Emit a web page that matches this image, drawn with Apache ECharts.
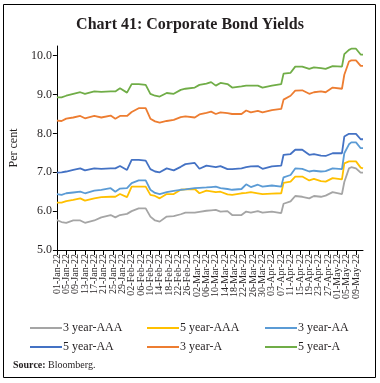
<!DOCTYPE html>
<html><head><meta charset="utf-8">
<script src="https://cdn.jsdelivr.net/npm/echarts@6/dist/echarts.min.js"></script>
<style>html,body{margin:0;padding:0;background:#fff}#c{width:380px;height:383px}</style>
</head><body><div id="c"></div>
<script>
var sampleDates = ['01-Jan-22','03-Jan-22','05-Jan-22','08-Jan-22','11-Jan-22','13-Jan-22','17-Jan-22','20-Jan-22','24-Jan-22','26-Jan-22','28-Jan-22','31-Jan-22','02-Feb-22','05-Feb-22','08-Feb-22','10-Feb-22','12-Feb-22','14-Feb-22','17-Feb-22','20-Feb-22','23-Feb-22','25-Feb-22','01-Mar-22','03-Mar-22','06-Mar-22','08-Mar-22','10-Mar-22','12-Mar-22','15-Mar-22','17-Mar-22','21-Mar-22','23-Mar-22','25-Mar-22','28-Mar-22','30-Mar-22','03-Apr-22','07-Apr-22','08-Apr-22','11-Apr-22','13-Apr-22','16-Apr-22','19-Apr-22','21-Apr-22','24-Apr-22','26-Apr-22','29-Apr-22','03-May-22','04-May-22','06-May-22','07-May-22','09-May-22','11-May-22','12-May-22'];
var aaa3 = [5.77,5.72,5.70,5.76,5.76,5.70,5.76,5.84,5.90,5.84,5.90,5.93,6.00,6.07,6.07,5.86,5.76,5.73,5.86,5.87,5.92,5.96,5.96,5.98,6.01,6.02,6.03,5.99,6.00,5.90,5.90,5.99,5.96,6.00,5.96,5.99,5.95,6.19,6.25,6.39,6.37,6.33,6.39,6.37,6.40,6.49,6.44,6.75,7.10,7.13,7.10,6.99,6.99];
var aaa5 = [6.22,6.22,6.26,6.29,6.33,6.27,6.33,6.36,6.37,6.37,6.44,6.36,6.63,6.63,6.63,6.42,6.39,6.33,6.44,6.44,6.55,6.56,6.57,6.46,6.53,6.51,6.49,6.50,6.43,6.42,6.46,6.47,6.49,6.46,6.44,6.45,6.46,6.73,6.76,6.89,6.89,6.79,6.83,6.77,6.76,6.85,6.82,7.23,7.28,7.28,7.28,7.12,7.10];
var aa3 = [6.44,6.42,6.46,6.48,6.50,6.46,6.53,6.55,6.59,6.50,6.58,6.59,6.72,6.79,6.79,6.55,6.47,6.44,6.49,6.52,6.55,6.56,6.59,6.60,6.61,6.62,6.63,6.59,6.57,6.55,6.57,6.69,6.62,6.68,6.63,6.66,6.63,6.87,6.93,7.10,7.09,7.02,7.04,7.02,7.03,7.10,7.08,7.49,7.72,7.77,7.77,7.62,7.62];
var aa5 = [6.99,7.00,7.02,7.06,7.10,7.05,7.10,7.09,7.10,7.10,7.16,7.06,7.32,7.32,7.30,7.08,7.02,7.00,7.10,7.05,7.14,7.21,7.24,7.09,7.17,7.15,7.13,7.16,7.08,7.08,7.10,7.13,7.15,7.16,7.09,7.15,7.17,7.45,7.47,7.58,7.58,7.45,7.47,7.43,7.42,7.49,7.49,7.92,7.99,7.99,7.99,7.85,7.85];
var a3 = [8.33,8.32,8.38,8.41,8.45,8.39,8.45,8.41,8.46,8.38,8.45,8.45,8.55,8.65,8.65,8.38,8.31,8.28,8.32,8.35,8.42,8.44,8.41,8.49,8.53,8.56,8.50,8.54,8.52,8.50,8.50,8.59,8.54,8.58,8.54,8.60,8.63,8.87,8.97,9.10,9.11,9.02,9.06,9.08,9.06,9.18,9.15,9.51,9.85,9.88,9.88,9.74,9.74];
var a5 = [8.93,8.93,8.97,9.02,9.06,9.02,9.08,9.07,9.08,9.08,9.16,9.05,9.27,9.27,9.25,9.02,8.97,8.95,9.04,9.02,9.12,9.15,9.18,9.25,9.28,9.32,9.23,9.30,9.27,9.18,9.21,9.23,9.23,9.23,9.18,9.23,9.27,9.54,9.56,9.72,9.72,9.66,9.70,9.68,9.66,9.73,9.72,10.04,10.15,10.18,10.18,10.03,10.03];
var seriesNames = ['3 year-AAA','5 year-AAA','3 year-AA','5 year-AA','3 year-A','5 year-A'];
var seriesColors = ['#A5A5A5','#FFC000','#5B9BD5','#4472C4','#ED7D31','#70AD47'];
var seriesValues = [aaa3, aaa5, aa3, aa5, a3, a5];

// calendar categories 01-Jan-22 .. 12-May-22
var months = ['Jan','Feb','Mar','Apr','May','Jun','Jul','Aug','Sep','Oct','Nov','Dec'];
var categories = [];
var dt = new Date(Date.UTC(2022,0,1)), end = new Date(Date.UTC(2022,4,12));
while (dt <= end) {
  var dd = ('0' + dt.getUTCDate()).slice(-2);
  categories.push(dd + '-' + months[dt.getUTCMonth()] + '-22');
  dt = new Date(dt.getTime() + 86400000);
}
function build(vals) {
  var m = {};
  sampleDates.forEach(function (d, i) { m[d] = vals[i]; });
  return categories.map(function (c) { return (c in m) ? m[c] : null; });
}
var FONT = '"Liberation Serif", "DejaVu Serif", serif';
var series = seriesNames.map(function (n, i) {
  return { name: n, type: 'line', xAxisIndex: 0, data: build(seriesValues[i]), connectNulls: true,
    showSymbol: false, symbol: 'none', lineStyle: { color: seriesColors[i], width: 1.8 },
    itemStyle: { color: seriesColors[i] }, animation: false };
});
var legendPos = [[30,322],[147,322],[265,322],[30,341],[147,341],[265,341]];
var legends = seriesNames.map(function (n, i) {
  return { data: [n], left: legendPos[i][0], top: legendPos[i][1], icon: 'rect',
    itemWidth: 32, itemHeight: 2, itemGap: 0, padding: 0,
    textStyle: { fontFamily: FONT, fontSize: 12, color: '#231F20', padding: [0,0,0,-4] } };
});
function every4(idx) { return idx % 4 === 0; }
function labelsA(idx) { return idx % 8 === 0; }
function labelsB(idx) { return idx % 8 === 4; }
var labelStyle = { rotate: 90, fontFamily: FONT, fontSize: 10, color: '#231F20', margin: 4,
  showMinLabel: true, showMaxLabel: true, hideOverlap: false };
var chart = echarts.init(document.getElementById('c'), null, { renderer: 'canvas' });
chart.setOption({
  backgroundColor: '#fff',
  animation: false,
  title: { text: 'Chart 41: Corporate Bond Yields', left: 'center', top: 12,
    textStyle: { fontFamily: FONT, fontSize: 16, fontWeight: 'bold', color: '#231F20' } },
  legend: legends,
  grid: { left: 51, right: 17, top: 46, bottom: 133 },
  xAxis: [
    { type: 'category', data: categories, boundaryGap: false, position: 'bottom', offset: 0,
      axisLine: { lineStyle: { color: '#000', width: 1 } },
      axisTick: { interval: every4, length: 5, lineStyle: { color: '#000' } },
      axisLabel: Object.assign({ interval: labelsA }, labelStyle),
      splitLine: { show: false } },
    { type: 'category', data: categories, boundaryGap: false, position: 'bottom', offset: 0,
      axisLine: { show: false }, axisTick: { show: false },
      axisLabel: Object.assign({ interval: labelsB }, labelStyle),
      splitLine: { show: false } }
  ],
  yAxis: { type: 'value', min: 5, max: 10.25, interval: 1,
    name: 'Per cent', nameLocation: 'middle', nameGap: 31, nameRotate: 90,
    nameTextStyle: { fontFamily: FONT, fontSize: 12, color: '#231F20' },
    axisLine: { show: true, lineStyle: { color: '#000', width: 1 } },
    axisTick: { show: true, length: 4, lineStyle: { color: '#000' } },
    axisLabel: { fontFamily: FONT, fontSize: 12, color: '#231F20', margin: 5, showMaxLabel: false,
      formatter: function (v) { return v.toFixed(1); } },
    splitLine: { show: false } },
  series: series,
  graphic: [
    { type: 'rect', shape: { x: 3.5, y: 4.5, width: 372, height: 373 },
      style: { fill: 'none', stroke: '#000', lineWidth: 1 }, silent: true },
    { type: 'text', left: 13, top: 360,
      style: { text: '{b|Source:} Bloomberg.', rich: { b: { fontWeight: 'bold', fontFamily: FONT, fontSize: 10, fill: '#231F20' } },
        font: '10px ' + FONT, fill: '#231F20' } }
  ]
});
</script></body></html>
